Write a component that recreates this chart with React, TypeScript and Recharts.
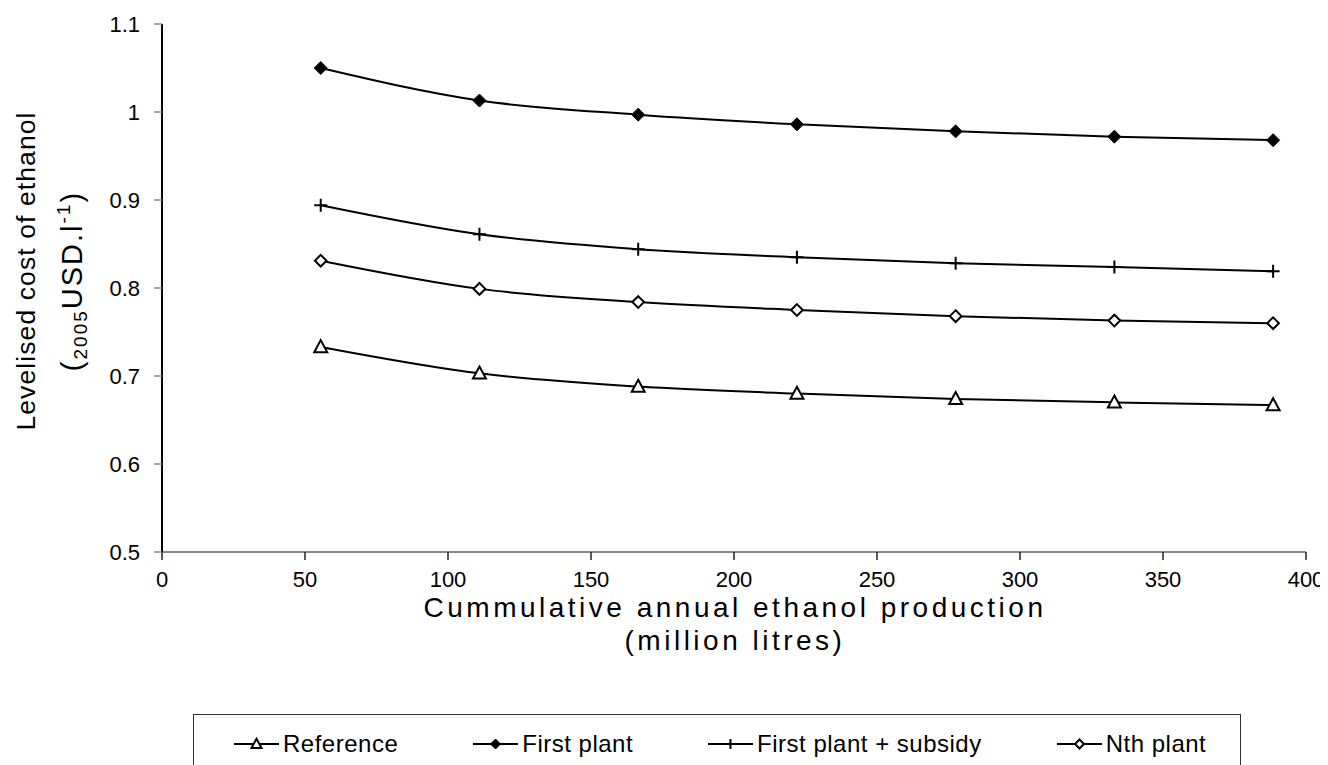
import React from 'react';
import { LineChart, Line, XAxis, YAxis } from 'recharts';

const xValues = [55.5, 111, 166.5, 222, 277.5, 333, 388.5];
const reference = [0.733, 0.703, 0.688, 0.680, 0.674, 0.670, 0.667];
const firstPlant = [1.050, 1.013, 0.997, 0.986, 0.978, 0.972, 0.968];
const firstPlantSubsidy = [0.894, 0.861, 0.844, 0.835, 0.828, 0.824, 0.819];
const nthPlant = [0.831, 0.799, 0.784, 0.775, 0.768, 0.763, 0.760];

const xTicks = [0, 50, 100, 150, 200, 250, 300, 350, 400];
const yTicks = [0.5, 0.6, 0.7, 0.8, 0.9, 1.0, 1.1];

const seriesNames = ['Reference', 'First plant', 'First plant + subsidy', 'Nth plant'];
const seriesKeys = ['reference', 'firstPlant', 'firstPlantSubsidy', 'nthPlant'];

const data = xValues.map((x, i) => ({
  x,
  reference: reference[i],
  firstPlant: firstPlant[i],
  firstPlantSubsidy: firstPlantSubsidy[i],
  nthPlant: nthPlant[i],
}));

const FONT = '"Liberation Sans", Arial, Helvetica, sans-serif';

type MarkerKind = 'triangle' | 'diamondFilled' | 'plus' | 'diamondOpen';
const markerKinds: MarkerKind[] = ['triangle', 'diamondFilled', 'plus', 'diamondOpen'];

function markerShape(kind: MarkerKind, cx: number, cy: number, s: number) {
  switch (kind) {
    case 'triangle':
      return (
        <path
          d={`M${cx},${cy - s * 1.05} L${cx + s},${cy + s * 0.8} L${cx - s},${cy + s * 0.8} Z`}
          fill="#fff"
          stroke="#000"
          strokeWidth={2}
          strokeLinejoin="miter"
        />
      );
    case 'diamondFilled':
      return (
        <path
          d={`M${cx},${cy - s} L${cx + s},${cy} L${cx},${cy + s} L${cx - s},${cy} Z`}
          fill="#000"
          stroke="#000"
          strokeWidth={1}
        />
      );
    case 'plus':
      return (
        <path
          d={`M${cx - s},${cy} L${cx + s},${cy} M${cx},${cy - s} L${cx},${cy + s}`}
          fill="none"
          stroke="#000"
          strokeWidth={2}
        />
      );
    case 'diamondOpen':
    default:
      return (
        <path
          d={`M${cx},${cy - s * 0.9} L${cx + s * 0.9},${cy} L${cx},${cy + s * 0.9} L${cx - s * 0.9},${cy} Z`}
          fill="#fff"
          stroke="#000"
          strokeWidth={2}
        />
      );
  }
}

const makeDot = (kind: MarkerKind) => (props: any) => {
  const { cx, cy, index } = props;
  if (cx == null || cy == null) return <g key={`e-${index}`} />;
  return <g key={`${kind}-${index}`}>{markerShape(kind, cx, cy, 6.5)}</g>;
};

const YTitle = () => (
  <g>
    <text
      x={27}
      y={263}
      transform="rotate(-90, 27, 263)"
      textAnchor="middle"
      fontFamily={FONT}
      fontSize={26.5}
      fill="#000"
      letterSpacing={1.1}
    >
      Levelised cost of ethanol
    </text>
    <text
      x={74}
      y={273}
      transform="rotate(-90, 74, 273)"
      textAnchor="middle"
      fontFamily={FONT}
      fontSize={29}
      fill="#000"
      letterSpacing={2}
    >
      (<tspan fontSize={19} dy={5}>2005</tspan>
      <tspan dy={-5}>USD.l</tspan>
      <tspan fontSize={19} dy={-12}>-1</tspan>
      <tspan dy={12}>)</tspan>
    </text>
  </g>
);

const XTitle = () => (
  <g>
    <text
      x={727}
      y={599}
      textAnchor="middle"
      dominantBaseline="central"
      fontFamily={FONT}
      fontSize={28}
      fill="#000"
      letterSpacing={3.5}
    >
      Cummulative annual ethanol production
    </text>
    <text
      x={727}
      y={632}
      textAnchor="middle"
      dominantBaseline="central"
      fontFamily={FONT}
      fontSize={28}
      fill="#000"
      letterSpacing={3.5}
    >
      (million litres)
    </text>
  </g>
);

const LegendMarker = ({ kind }: { kind: MarkerKind }) => (
  <svg width={45} height={20} style={{ display: 'block' }}>
    <line x1={0} y1={10} x2={45} y2={10} stroke="#000" strokeWidth={2} />
    {markerShape(kind, 22.5, 10, 5)}
  </svg>
);

export default function App() {
  return (
    <div style={{ position: 'relative', width: 1320, height: 757, background: '#fff', overflow: 'hidden' }}>
      <style>{'html,body{overflow:hidden;}'}</style>
      <LineChart
        width={1320}
        height={757}
        data={data}
        margin={{ top: 16, right: 22, bottom: 173, left: 0 }}
        style={{ overflow: 'visible' }}
      >
        <XAxis
          dataKey="x"
          type="number"
          domain={[0, 400]}
          ticks={xTicks}
          interval={0}
          height={40}
          axisLine={{ stroke: '#888', strokeWidth: 2 }}
          tickLine={{ stroke: '#222', strokeWidth: 1.5 }}
          tickSize={8}
          tickMargin={11}
          tick={{ fill: '#000', fontSize: 22, fontFamily: FONT }}
        />
        <YAxis
          type="number"
          domain={[0.5, 1.1]}
          ticks={yTicks}
          interval={0}
          width={154}
          axisLine={{ stroke: '#000', strokeWidth: 2 }}
          tickLine={{ stroke: '#888', strokeWidth: 1.5 }}
          tickSize={8}
          tickMargin={14}
          tickFormatter={(v: number) => String(Math.round(v * 10) / 10)}
          tick={{ fill: '#000', fontSize: 22, fontFamily: FONT }}
        />
        {seriesKeys.map((k, i) => (
          <Line
            key={k}
            dataKey={k}
            name={seriesNames[i]}
            type="monotone"
            stroke="#000"
            strokeWidth={2}
            dot={makeDot(markerKinds[i])}
            activeDot={false}
            isAnimationActive={false}
          />
        ))}
        <YTitle />
        <XTitle />
      </LineChart>
      <div
        style={{
          position: 'absolute',
          left: 185,
          top: 706,
          width: 1048,
          height: 80,
          border: '1.5px solid #333',
          boxSizing: 'border-box',
          display: 'flex',
          alignItems: 'flex-start',
          paddingLeft: 40,
          paddingTop: 17,
          fontFamily: FONT,
          fontSize: 24,
          letterSpacing: 0.5,
          color: '#000',
          background: '#fff',
        }}
      >
        {seriesNames.map((n, i) => (
          <div
            key={n}
            style={{
              display: 'flex',
              alignItems: 'center',
              marginLeft: i === 0 ? 0 : 75,
              whiteSpace: 'nowrap',
              lineHeight: '24px',
            }}
          >
            <LegendMarker kind={markerKinds[i]} />
            <span style={{ marginLeft: 4 }}>{n}</span>
          </div>
        ))}
      </div>
    </div>
  );
}
